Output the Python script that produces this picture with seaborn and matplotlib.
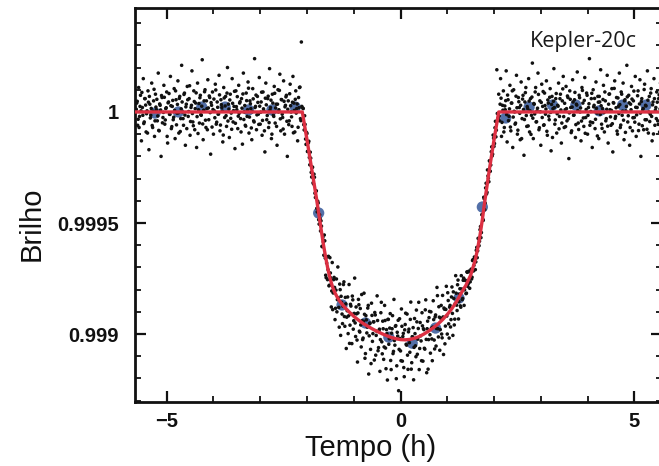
import matplotlib
matplotlib.use("Agg")
import matplotlib.pyplot as plt
import numpy as np
import pandas as pd
import seaborn as sns
from matplotlib.ticker import FixedLocator, FixedFormatter, MultipleLocator

# ---------------- data (brightness given as ppm offset from 1) ----------------
baseline_left = [
    (-5.64, 40), (-5.62, -60), (-5.60, 110), (-5.58, -20), (-5.56, 75), (-5.54, -130), (-5.52, 20), (-5.50, 150),
    (-5.48, -45), (-5.46, 60), (-5.44, -90), (-5.42, 5), (-5.40, 95), (-5.38, -170), (-5.36, 35), (-5.34, -15),
    (-5.32, 130), (-5.30, -70), (-5.28, 50), (-5.26, -110), (-5.24, 80), (-5.22, 10), (-5.20, -40), (-5.18, 175),
    (-5.16, -85), (-5.14, 30), (-5.12, -200), (-5.10, 65), (-5.08, -25), (-5.06, 120), (-5.04, -55), (-5.02, 15),
    (-5.00, 90), (-4.98, -140), (-4.96, 45), (-4.94, -10), (-4.92, 160), (-4.90, -75), (-4.88, 25), (-4.86, -35),
    (-4.84, 105), (-4.82, -120), (-4.80, 55),
    (-4.78, -5), (-4.76, 140), (-4.74, -95), (-4.72, 70), (-4.70, -30), (-4.68, 210), (-4.66, 0), (-4.64, -60),
    (-4.62, 85), (-4.60, -150), (-4.58, 35), (-4.56, 115), (-4.54, -20), (-4.52, 60), (-4.50, -105), (-4.48, 20),
    (-4.46, 185), (-4.44, -45), (-4.42, 95), (-4.40, -80), (-4.38, 40), (-4.36, -160), (-4.34, 130), (-4.32, 10),
    (-4.30, -50), (-4.28, 75), (-4.26, -15), (-4.24, 235), (-4.22, -125), (-4.20, 50), (-4.18, 100), (-4.16, -70),
    (-4.14, 15), (-4.12, 145), (-4.10, -35), (-4.08, 65), (-4.06, -190), (-4.04, 30), (-4.02, 90), (-4.00, -100),
    (-3.98, 5), (-3.96, 125), (-3.94, -55), (-3.92, 45),
    (-3.90, -10), (-3.88, 165), (-3.86, -85), (-3.84, 55), (-3.82, 20), (-3.80, -135), (-3.78, 110), (-3.76, -25),
    (-3.74, 70), (-3.72, -65), (-3.70, 200), (-3.68, 35), (-3.66, -115), (-3.64, 80), (-3.62, -5), (-3.60, 150),
    (-3.58, -45), (-3.56, 25), (-3.54, -165), (-3.52, 95), (-3.50, 10), (-3.48, -75), (-3.46, 120), (-3.44, 40),
    (-3.42, -30), (-3.40, 60), (-3.38, -145), (-3.36, 175), (-3.34, 0), (-3.32, -60), (-3.30, 85), (-3.28, -20),
    (-3.26, 135), (-3.24, -95), (-3.22, 50), (-3.20, 15), (-3.18, -125), (-3.16, 105), (-3.14, -40), (-3.12, 240),
    (-3.10, 25), (-3.08, -80), (-3.06, 70), (-3.04, -10), (-3.02, 155), (-3.00, -55),
    (-2.98, 45), (-2.96, -105), (-2.94, 90), (-2.92, 5), (-2.90, -180), (-2.88, 130), (-2.86, -35), (-2.84, 60),
    (-2.82, -70), (-2.80, 195), (-2.78, 20), (-2.76, -120), (-2.74, 80), (-2.72, -15), (-2.70, 115), (-2.68, -50),
    (-2.66, 35), (-2.64, -150), (-2.62, 100), (-2.60, 10), (-2.58, 170), (-2.56, -85), (-2.54, 55), (-2.52, -25),
    (-2.50, 140), (-2.48, -100), (-2.46, 30), (-2.44, 75), (-2.42, -200), (-2.40, 50), (-2.38, -40), (-2.36, 125),
    (-2.34, 0), (-2.32, -65), (-2.30, 160), (-2.28, 40), (-2.26, -90), (-2.24, 95), (-2.22, 15), (-2.20, -130),
    (-2.18, 65), (-2.16, 110), (-2.14, -30), (-2.12, 315),
]

baseline_left_b = [
    (-5.65, 12), (-5.63, 48), (-5.61, -33), (-5.59, -70), (-5.57, 25), (-5.55, 5), (-5.53, 88), (-5.51, -15),
    (-5.49, -52), (-5.47, 60), (-5.45, 31), (-5.43, -8), (-5.41, -95), (-5.39, 44), (-5.37, 70), (-5.35, -27),
    (-5.33, 16), (-5.31, -61), (-5.29, 3), (-5.27, 102), (-5.25, -40), (-5.23, 22), (-5.21, 57), (-5.19, -18),
    (-5.17, -83), (-5.15, 36), (-5.13, 9), (-5.11, 74), (-5.09, -49), (-5.07, -2), (-5.05, 66), (-5.03, -36),
    (-5.01, 19), (-4.99, -110), (-4.97, 41), (-4.95, 83), (-4.93, -11), (-4.91, 28), (-4.89, -66), (-4.87, 52),
    (-4.85, -24), (-4.83, 7), (-4.81, 95), (-4.79, -58), (-4.77, 34), (-4.75, -4), (-4.73, 61), (-4.71, -88),
    (-4.69, 14), (-4.67, 45), (-4.65, -30), (-4.63, 79), (-4.61, -14), (-4.59, 23), (-4.57, -75), (-4.55, 55),
    (-4.53, 2), (-4.51, 118), (-4.49, -43), (-4.47, 30), (-4.45, -7), (-4.43, -62), (-4.41, 47), (-4.39, 15),
    (-4.37, 86), (-4.35, -21), (-4.33, -97), (-4.31, 38), (-4.29, 64), (-4.27, -12), (-4.25, 26), (-4.23, -54),
    (-4.21, 8), (-4.19, 91), (-4.17, -37), (-4.15, 50), (-4.13, -80), (-4.11, 18), (-4.09, 72), (-4.07, -3),
    (-4.05, 42), (-4.03, -68), (-4.01, 11), (-3.99, 58), (-3.97, -26), (-3.95, 99), (-3.93, -46), (-3.91, 21),
    (-3.89, -9), (-3.87, 77), (-3.85, -59), (-3.83, 33), (-3.81, 4), (-3.79, -104), (-3.77, 63), (-3.75, 27),
    (-3.73, -17), (-3.71, 85), (-3.69, -41), (-3.67, 13), (-3.65, 54), (-3.63, -29), (-3.61, -78), (-3.59, 39),
    (-3.57, 6), (-3.55, 93), (-3.53, -51), (-3.51, 24), (-3.49, 69), (-3.47, -19), (-3.45, -6), (-3.43, 46),
    (-3.41, -90), (-3.39, 17), (-3.37, 81), (-3.35, -34), (-3.33, 29), (-3.31, -64), (-3.29, 51), (-3.27, 10),
    (-3.25, 107), (-3.23, -23), (-3.21, 37), (-3.19, -72), (-3.17, 1), (-3.15, 59), (-3.13, -45), (-3.11, 20),
    (-3.09, 76), (-3.07, -13), (-3.05, 43), (-3.03, -56), (-3.01, 26), (-2.99, -1), (-2.97, 89), (-2.95, -38),
    (-2.93, 14), (-2.91, -85), (-2.89, 62), (-2.87, 32), (-2.85, -16), (-2.83, 71), (-2.81, -48), (-2.79, 9),
    (-2.77, 53), (-2.75, -100), (-2.73, 40), (-2.71, -20), (-2.69, 84), (-2.67, 18), (-2.65, -65), (-2.63, 35),
    (-2.61, 0), (-2.59, 97), (-2.57, -31), (-2.55, 56), (-2.53, -10), (-2.51, -77), (-2.49, 48), (-2.47, 23),
    (-2.45, 68), (-2.43, -42), (-2.41, 12), (-2.39, -57), (-2.37, 82), (-2.35, 28), (-2.33, -22), (-2.31, 44),
    (-2.29, -94), (-2.27, 7), (-2.25, 57), (-2.23, -5), (-2.21, 36), (-2.19, -69), (-2.17, 19), (-2.15, 112),
    (-2.13, -39), (-2.11, 25),
]

ingress = [
    (-2.08, 15), (-2.06, -81), (-2.04, -56), (-2.02, -146), (-2.00, -97), (-1.98, -177), (-1.96, -132),
    (-1.94, -238), (-1.92, -208), (-1.90, -293), (-1.88, -249), (-1.86, -324), (-1.84, -294), (-1.82, -385),
    (-1.80, -355), (-1.78, -450), (-1.76, -410), (-1.74, -505), (-1.72, -480),
    (-2.09, 18), (-2.07, -57), (-2.05, -17), (-2.03, -122), (-2.01, -92), (-1.99, -178), (-1.97, -139),
    (-1.95, -205), (-1.93, -181), (-1.91, -272), (-1.89, -248), (-1.87, -319), (-1.85, -280), (-1.83, -366),
    (-1.81, -357), (-1.79, -434), (-1.77, -402), (-1.75, -485), (-1.73, -463), (-1.71, -536),
]

transit_floor = [
    (-1.70, -490), (-1.68, -605), (-1.66, -565), (-1.64, -645), (-1.62, -580), (-1.60, -735), (-1.58, -680),
    (-1.56, -755), (-1.54, -650), (-1.52, -780), (-1.50, -725), (-1.48, -878), (-1.46, -678), (-1.44, -815),
    (-1.42, -745), (-1.40, -935), (-1.38, -802), (-1.36, -900), (-1.34, -698), (-1.32, -880), (-1.30, -775),
    (-1.28, -1006), (-1.26, -857), (-1.24, -953), (-1.22, -777), (-1.20, -921), (-1.18, -835), (-1.16, -1065),
    (-1.14, -895), (-1.12, -998), (-1.10, -777), (-1.08, -960), (-1.06, -874), (-1.04, -1043), (-1.02, -846),
    (-1.00, -940), (-0.98, -748), (-0.96, -1011), (-0.94, -909), (-0.92, -1126), (-0.90, -844), (-0.88, -987),
    (-0.86, -885), (-0.84, -1058), (-0.82, -940), (-0.80, -1018), (-0.78, -816), (-0.76, -1109), (-0.74, -917),
    (-0.72, -995), (-0.70, -883), (-0.68, -1180), (-0.66, -952), (-0.64, -1069), (-0.62, -861), (-0.60, -1033),
    (-0.58, -945), (-0.56, -1117), (-0.54, -914), (-0.52, -1006), (-0.50, -828), (-0.48, -1075), (-0.46, -986),
    (-0.44, -1168), (-0.42, -904), (-0.40, -1035), (-0.38, -942), (-0.36, -1114), (-0.34, -871), (-0.32, -1063),
    (-0.30, -980), (-0.28, -1207), (-0.26, -934), (-0.24, -1021), (-0.22, -908), (-0.20, -1160), (-0.18, -976),
    (-0.16, -1088), (-0.14, -844), (-0.12, -1050), (-0.10, -962), (-0.08, -1143), (-0.06, -1009), (-0.04, -1255),
    (-0.02, -931), (0.00, -1076), (0.02, -887), (0.04, -1122), (0.06, -997), (0.08, -1192), (0.10, -957),
    (0.12, -1046), (0.14, -910), (0.16, -1159), (0.18, -978), (0.20, -1082), (0.22, -856), (0.24, -1129),
    (0.26, -1013), (0.28, -1206), (0.30, -930), (0.32, -1053), (0.34, -892), (0.36, -1091), (0.38, -975),
    (0.40, -1160), (0.42, -948), (0.44, -1031), (0.46, -904), (0.48, -1122), (0.50, -980), (0.52, -1068),
    (0.54, -846), (0.56, -1174), (0.58, -942), (0.60, -1025), (0.62, -898), (0.64, -1086), (0.66, -974),
    (0.68, -1120), (0.70, -850), (0.72, -1027), (0.74, -923), (0.76, -1054), (0.78, -790), (0.80, -976),
    (0.82, -877), (0.84, -1073), (0.86, -929), (0.88, -1000), (0.90, -826), (0.92, -1092), (0.94, -888),
    (0.96, -964), (0.98, -785), (1.00, -1000), (1.02, -849), (1.04, -1018), (1.06, -871), (1.08, -935),
    (1.10, -788), (1.12, -1006), (1.14, -840), (1.16, -933), (1.18, -737), (1.20, -870), (1.22, -778),
    (1.24, -932), (1.26, -820), (1.28, -873), (1.30, -737), (1.32, -845), (1.34, -758), (1.36, -871),
    (1.38, -757), (1.40, -818), (1.42, -720), (1.44, -786), (1.46, -717), (1.48, -794), (1.50, -715),
    (1.52, -752), (1.54, -669), (1.56, -716), (1.58, -653), (1.60, -710), (1.62, -623), (1.64, -656),
    (1.66, -569), (1.68, -602), (1.70, -530),
]

transit_floor_b = [
    (-1.69, -514), (-1.67, -607), (-1.65, -585), (-1.63, -554), (-1.61, -658), (-1.59, -746), (-1.57, -653),
    (-1.55, -710), (-1.53, -783), (-1.51, -656), (-1.49, -747), (-1.47, -806), (-1.45, -890), (-1.43, -755),
    (-1.41, -790), (-1.39, -884), (-1.37, -752), (-1.35, -845), (-1.33, -837), (-1.31, -969), (-1.29, -800),
    (-1.27, -830), (-1.25, -910), (-1.23, -875), (-1.21, -765), (-1.19, -965), (-1.17, -864), (-1.15, -924),
    (-1.13, -833), (-1.11, -918), (-1.09, -1042), (-1.07, -866), (-1.05, -910), (-1.03, -829), (-1.01, -978),
    (-0.99, -907), (-0.97, -950), (-0.95, -878), (-0.93, -1027), (-0.91, -905), (-0.89, -868), (-0.87, -991),
    (-0.85, -959), (-0.83, -822), (-0.81, -1025), (-0.79, -943), (-0.77, -911), (-0.75, -1088), (-0.73, -936),
    (-0.71, -969), (-0.69, -871), (-0.67, -1008), (-0.65, -951), (-0.63, -1133), (-0.61, -916), (-0.59, -998),
    (-0.57, -945), (-0.55, -903), (-0.53, -1095), (-0.51, -987), (-0.49, -939), (-0.47, -1061), (-0.45, -978),
    (-0.43, -1025), (-0.41, -857), (-0.39, -1089), (-0.37, -976), (-0.35, -1058), (-0.33, -939), (-0.31, -1156),
    (-0.29, -998), (-0.27, -934), (-0.25, -1046), (-0.23, -973), (-0.21, -1119), (-0.19, -996), (-0.17, -917),
    (-0.15, -1078), (-0.13, -1029), (-0.11, -965), (-0.09, -1201), (-0.07, -992), (-0.05, -938), (-0.03, -1069),
    (-0.01, -1020), (0.01, -1120), (0.03, -965), (0.05, -1011), (0.07, -1151), (0.09, -981), (0.11, -906),
    (0.13, -1050), (0.15, -1095), (0.17, -990), (0.19, -1039), (0.21, -934), (0.23, -1158), (0.25, -1012),
    (0.27, -971), (0.29, -1060), (0.31, -998), (0.33, -1102), (0.35, -945), (0.37, -1023), (0.39, -857),
    (0.41, -1065), (0.43, -1008), (0.45, -1120), (0.47, -963), (0.49, -976), (0.51, -1064), (0.53, -891),
    (0.55, -1024), (0.57, -976), (0.59, -1158), (0.61, -926), (0.63, -1003), (0.65, -900), (0.67, -1022),
    (0.69, -969), (0.71, -935), (0.73, -1067), (0.75, -914), (0.77, -975), (0.79, -827), (0.81, -1013),
    (0.83, -924), (0.85, -980), (0.87, -871), (0.89, -1017), (0.91, -923), (0.93, -883), (0.95, -1044),
    (0.97, -889), (0.99, -919), (1.01, -814), (1.03, -954), (1.05, -879), (1.07, -968), (1.09, -833),
    (1.11, -907), (1.13, -810), (1.15, -959), (1.17, -863), (1.19, -816), (1.21, -894), (1.23, -757),
    (1.25, -854), (1.27, -796), (1.29, -879), (1.31, -797), (1.33, -840), (1.35, -748), (1.37, -801),
    (1.39, -759), (1.41, -816), (1.43, -722), (1.45, -773), (1.47, -719), (1.49, -765), (1.51, -708),
    (1.53, -744), (1.55, -665), (1.57, -691), (1.59, -657), (1.61, -675), (1.63, -610), (1.65, -625),
    (1.67, -571), (1.69, -582),
]

egress = [
    (1.72, -566), (1.74, -462), (1.76, -483), (1.78, -384), (1.80, -440), (1.82, -342), (1.84, -369),
    (1.86, -261), (1.88, -298), (1.90, -220), (1.92, -267), (1.94, -179), (1.96, -198), (1.98, -104),
    (2.00, -155), (2.02, -71), (2.04, -112), (2.06, 190), (2.08, -34),
    (1.71, -516), (1.73, -543), (1.75, -465), (1.77, -488), (1.79, -391), (1.81, -410), (1.83, -321),
    (1.85, -362), (1.87, -288), (1.89, -314), (1.91, -221), (1.93, -239), (1.95, -157), (1.97, -190),
    (1.99, -118), (2.01, -142), (2.03, -42), (2.05, -82), (2.07, -7), (2.09, -27),
]

baseline_right = [
    (2.10, 80), (2.12, -40), (2.14, 150), (2.16, -110), (2.18, 30), (2.20, 95), (2.22, -70), (2.24, 10),
    (2.26, 185), (2.28, -135), (2.30, 55), (2.32, -20), (2.34, 120), (2.36, -85), (2.38, 40), (2.40, -160),
    (2.42, 100), (2.44, 0), (2.46, -50), (2.48, 165), (2.50, -100), (2.52, 65), (2.54, 20), (2.56, -125),
    (2.58, 135), (2.60, -30), (2.62, 75), (2.64, -195), (2.66, 45), (2.68, 110), (2.70, -65), (2.72, 15),
    (2.74, 150), (2.76, -90), (2.78, 60), (2.80, -15), (2.82, 220), (2.84, -120), (2.86, 35), (2.88, 90),
    (2.90, -45), (2.92, 5), (2.94, 175), (2.96, -80), (2.98, 50), (3.00, -150), (3.02, 125), (3.04, 25),
    (3.06, -60), (3.08, 85), (3.10, -10), (3.12, 140), (3.14, -105), (3.16, 40), (3.18, -35), (3.20, 105),
    (3.22, -175), (3.24, 70), (3.26, 15), (3.28, 195), (3.30, -55), (3.32, 60), (3.34, -95), (3.36, 30),
    (3.38, 130), (3.40, -20), (3.42, 80), (3.44, -140), (3.46, 50), (3.48, 160), (3.50, -70), (3.52, 10),
    (3.54, 115), (3.56, -40), (3.58, 65), (3.60, -210), (3.62, 95), (3.64, 20), (3.66, -85), (3.68, 145),
    (3.70, -15), (3.72, 55), (3.74, -115), (3.76, 35), (3.78, 180), (3.80, -50), (3.82, 75), (3.84, 0),
    (3.86, -130), (3.88, 110), (3.90, 40), (3.92, -65), (3.94, 155), (3.96, -25), (3.98, 85), (4.00, -100),
    (4.02, 20), (4.04, 240), (4.06, -45), (4.08, 60), (4.10, -160), (4.12, 100), (4.14, 30), (4.16, -75),
    (4.18, 135), (4.20, -5), (4.22, 70), (4.24, -120), (4.26, 45), (4.28, 190), (4.30, -55), (4.32, 15),
    (4.34, 120), (4.36, -90), (4.38, 50), (4.40, -30), (4.42, 165), (4.44, -140), (4.46, 80), (4.48, 10),
    (4.50, -60), (4.52, 105), (4.54, -180), (4.56, 40), (4.58, 140), (4.60, -20), (4.62, 65), (4.64, -100),
    (4.66, 25), (4.68, 175), (4.70, -70), (4.72, 90), (4.74, -15), (4.76, 130), (4.78, -125), (4.80, 55),
    (4.82, 5), (4.84, 210), (4.86, -45), (4.88, 75), (4.90, -150), (4.92, 35), (4.94, 115), (4.96, -85),
    (4.98, 50), (5.00, -25), (5.02, 160), (5.04, -110), (5.06, 20), (5.08, 95), (5.10, -55), (5.12, 145),
    (5.14, -200), (5.16, 60), (5.18, 10), (5.20, -80), (5.22, 125), (5.24, 30), (5.26, -35), (5.28, 185),
    (5.30, -95), (5.32, 70), (5.34, -10), (5.36, 105), (5.38, -130), (5.40, 45), (5.42, 150), (5.44, -60),
    (5.46, 20), (5.48, 90), (5.50, -40), (5.52, 60), (5.54, -90), (5.56, 130),
]

baseline_right_b = [
    (2.11, -18), (2.13, 35), (2.15, 62), (2.17, -47), (2.19, 8), (2.21, -90), (2.23, 27), (2.25, 51),
    (2.27, -12), (2.29, 76), (2.31, -39), (2.33, 14), (2.35, -68), (2.37, 40), (2.39, 95), (2.41, -23),
    (2.43, 3), (2.45, -55), (2.47, 71), (2.49, 19), (2.51, -82), (2.53, 46), (2.55, -6), (2.57, 30),
    (2.59, -120), (2.61, 58), (2.63, 11), (2.65, -34), (2.67, 87), (2.69, -16), (2.71, 24), (2.73, -63),
    (2.75, 49), (2.77, 5), (2.79, -101), (2.81, 67), (2.83, -28), (2.85, 38), (2.87, -9), (2.89, 110),
    (2.91, -44), (2.93, 17), (2.95, 79), (2.97, -71), (2.99, 1), (3.01, 43), (3.03, -25), (3.05, 92),
    (3.07, -58), (3.09, 29), (3.11, 13), (3.13, -87), (3.15, 54), (3.17, -19), (3.19, 66), (3.21, -2),
    (3.23, 34), (3.25, -115), (3.27, 48), (3.29, 20), (3.31, -36), (3.33, 83), (3.35, -8), (3.37, 26),
    (3.39, -76), (3.41, 60), (3.43, 9), (3.45, -50), (3.47, 104), (3.49, -21), (3.51, 39), (3.53, -66),
    (3.55, 15), (3.57, 72), (3.59, -31), (3.61, -4), (3.63, 57), (3.65, -93), (3.67, 22), (3.69, 45),
    (3.71, -14), (3.73, 88), (3.75, -57), (3.77, 31), (3.79, 6), (3.81, -79), (3.83, 64), (3.85, 18),
    (3.87, -41), (3.89, 97), (3.91, -27), (3.93, 52), (3.95, -96), (3.97, 11), (3.99, 75), (4.01, -15),
    (4.03, 37), (4.05, -60), (4.07, 2), (4.09, 84), (4.11, -48), (4.13, 23), (4.15, 61), (4.17, -33),
    (4.19, 16), (4.21, -108), (4.23, 44), (4.25, 70), (4.27, -11), (4.29, 28), (4.31, -74), (4.33, 56),
    (4.35, -3), (4.37, 90), (4.39, -40), (4.41, 12), (4.43, -64), (4.45, 35), (4.47, 81), (4.49, -22),
    (4.51, 7), (4.53, -53), (4.55, 42), (4.57, 106), (4.59, -29), (4.61, 19), (4.63, -86), (4.65, 63),
    (4.67, -7), (4.69, 33), (4.71, -59), (4.73, 80), (4.75, 4), (4.77, -37), (4.79, 50), (4.81, -92),
    (4.83, 25), (4.85, 68), (4.87, -17), (4.89, 41), (4.91, -70), (4.93, 10), (4.95, 58), (4.97, -26),
    (4.99, 94), (5.01, -46), (5.03, 21), (5.05, -13), (5.07, 73), (5.09, -84), (5.11, 36), (5.13, -5),
    (5.15, 47), (5.17, -62), (5.19, 16), (5.21, 101), (5.23, -35), (5.25, 27), (5.27, -78), (5.29, 53),
    (5.31, 0), (5.33, -43), (5.35, 85), (5.37, -20), (5.39, 32), (5.41, -99), (5.43, 60), (5.45, 8),
    (5.47, -30), (5.49, 44), (5.51, -56), (5.53, 77), (5.55, 14), (5.57, -24),
]

binned_t = [-5.25, -4.75, -4.25, -3.75, -3.25, -2.75, -2.25, -1.75, -1.25, -0.75, -0.25,
            0.25, 0.75, 1.25, 1.75, 2.25, 2.75, 3.25, 3.75, 4.25, 4.75, 5.25]
binned_ppm = [-5, 0, 22, 22, 9, 9, 22, -455, -869, -950, -1014,
              -1041, -973, -838, -428, -27, 22, 31, 31, 5, 31, 31]

model_t = [-5.80, -2.10, -2.00, -1.90, -1.80, -1.75, -1.70, -1.65, -1.60, -1.55, -1.50, -1.45, -1.40,
           -1.35, -1.30, -1.20, -1.10, -1.00, -0.90, -0.80, -0.70, -0.60, -0.50, -0.40, -0.30, -0.20,
           -0.10, 0.00, 0.10, 0.20, 0.30, 0.40, 0.50, 0.60, 0.70, 0.80, 0.90, 1.00, 1.10, 1.20, 1.30,
           1.40, 1.50, 1.60, 1.65, 1.70, 1.75, 1.80, 1.90, 2.00, 2.10, 5.70]
model_ppm = [0, 0, -125, -255, -385, -455, -525, -595, -655, -710, -755, -790, -815,
             -835, -852, -878, -900, -920, -937, -952, -965, -977, -988, -998, -1007, -1015,
             -1021, -1025, -1026, -1024, -1019, -1011, -1000, -987, -972, -955, -935, -912, -885, -853, -815,
             -780, -735, -665, -615, -555, -485, -405, -260, -125, 0, 0]

y_ticks = [0.999, 0.9995, 1.0]
y_tick_labels = ["0.999", "0.9995", "1"]
x_ticks = [-5, 0, 5]
x_tick_labels = ["\u22125", "0", "5"]

# ---------------- frames ----------------
all_dots = (baseline_left + baseline_left_b + ingress + transit_floor + transit_floor_b
            + egress + baseline_right + baseline_right_b)
dots = pd.DataFrame(all_dots, columns=["t", "ppm"])
dots["flux"] = 1 + dots["ppm"] * 1e-6
binned = pd.DataFrame({"t": binned_t, "flux": 1 + np.array(binned_ppm) * 1e-6})
model = pd.DataFrame({"t": model_t, "flux": 1 + np.array(model_ppm) * 1e-6})

# ---------------- figure ----------------
sns.set_theme(style="ticks")
plt.rcParams['font.family'] = ['Liberation Sans', 'DejaVu Sans']

fig = plt.figure(figsize=(6.59, 4.66), dpi=100)
left, right, bottom, top = 0.2056, 1.004, 0.1373, 0.9828
ax = fig.add_axes([left, bottom, right - left, top - bottom])

sns.scatterplot(data=binned, x="t", y="flux", s=66, color="#40609f", edgecolor="none",
                alpha=0.9, ax=ax, zorder=2, legend=False)
sns.scatterplot(data=dots, x="t", y="flux", s=6.5, color="#111111", edgecolor="none",
                ax=ax, zorder=3, legend=False)
sns.lineplot(data=model, x="t", y="flux", color="#dc3042", lw=2.4, sort=False,
             estimator=None, ax=ax, zorder=4, legend=False)

ax.set_xlim(-5.667, 5.584)
ax.set_ylim(0.998694, 1.000468)

ax.xaxis.set_major_locator(FixedLocator(x_ticks))
ax.xaxis.set_major_formatter(FixedFormatter(x_tick_labels))
ax.xaxis.set_minor_locator(MultipleLocator(1))
ax.yaxis.set_major_locator(FixedLocator(y_ticks))
ax.yaxis.set_major_formatter(FixedFormatter(y_tick_labels))
ax.yaxis.set_minor_locator(MultipleLocator(0.0001))

for s in ax.spines.values():
    s.set_linewidth(2.0)
    s.set_color("#111111")

ax.tick_params(which="both", direction="in", top=True, right=True, color="#111111")
ax.tick_params(which="major", length=8, width=1.6)
ax.tick_params(which="minor", length=4.5, width=1.3)
ax.tick_params(axis="y", which="major", pad=12, labelsize=14.5)
ax.tick_params(axis="x", which="major", pad=7, labelsize=14.5)
for lab in ax.get_xticklabels() + ax.get_yticklabels():
    lab.set_fontweight("bold")
    lab.set_color("#111111")

ax.set_xlabel("Tempo (h)", fontsize=21, color="#111111")
ax.set_ylabel("Brilho", fontsize=21, color="#111111")
ax.xaxis.set_label_coords(0.4477, -0.08)
ax.yaxis.set_label_coords(-0.170, 0.453)

fig.text(530 / 659, 1 - 47 / 466, "Kepler-20c", fontsize=15.5, color="#1a1a1a",
         family=["Open Sans", "DejaVu Sans"], va="baseline", ha="left")

fig.savefig("out.png", dpi=100)
